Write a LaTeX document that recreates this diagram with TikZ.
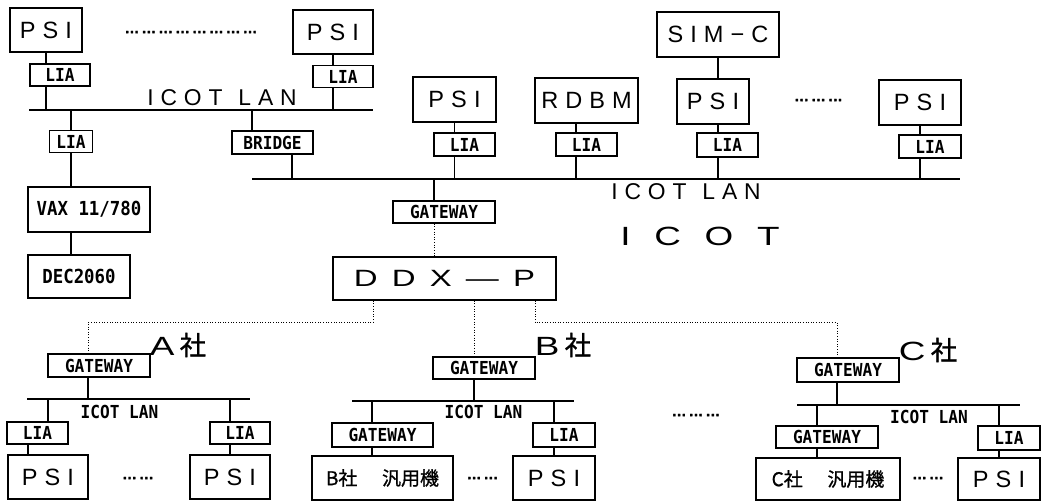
\documentclass[tikz,border=0pt]{standalone}
\usepackage{fontspec}
\setmainfont{Liberation Sans}
\newfontfamily\spaced[LetterSpace=30]{Liberation Sans}
\newfontfamily\widefont[FakeStretch=1.4,LetterSpace=60]{Liberation Sans}
\newfontfamily\sitefont[FakeStretch=1.4,LetterSpace=90]{Liberation Sans}
\newfontfamily\tagfont[FakeStretch=0.9]{DejaVu Sans Mono}
\newfontfamily\cjk[FakeBold=1]{Noto Sans CJK JP}
\newfontfamily\dotfont[FakeBold=2]{Liberation Sans}
\newcommand{\dotgroup}{…\hspace{1.2pt}}
\tikzset{
  frame/.style={draw=black, line width=0.7pt, fill=white, inner sep=0pt},
  unit/.style={frame, font=\spaced\fontsize{13.4}{15}\selectfont, minimum width=1.6cm, minimum height=0.88cm},
  tag/.style={frame, font=\tagfont\bfseries\fontsize{10.2}{11}\selectfont, minimum width=1.2cm, minimum height=0.44cm},
  gw/.style={tag, minimum width=2.04cm, minimum height=0.46cm},
  host/.style={frame, font=\tagfont\bfseries\fontsize{11}{12}\selectfont, minimum height=0.88cm},
  mainframe/.style={frame, font=\cjk\fontsize{10.8}{12}\selectfont, minimum height=0.88cm},
  lan/.style={line width=1.2pt},
  link/.style={line width=0.7pt},
  wan/.style={line width=0.5pt, densely dotted},
  lanlabel/.style={font=\spaced\fontsize{13}{14}\selectfont, inner sep=0pt},
  lanname/.style={font=\tagfont\bfseries\fontsize{10.2}{11}\selectfont, inner sep=0pt},
  site/.style={font=\fontsize{15}{16}\selectfont, inner sep=0pt},
  pause/.style={font=\dotfont\bfseries\fontsize{8.4}{9}\selectfont, inner sep=0pt}
}

\begin{document}
\begin{tikzpicture}[x=0.02cm,y=-0.02cm]
\path[use as bounding box] (0,0) rectangle (1041,501);
\fill[white] (0,0) rectangle (1041,501);

% ICOT: first LAN
\node[unit, minimum width=1.44cm] (psiNW) at (46,30) {PSI};
\node[unit] (psiNE) at (333,32) {PSI};
\node[pause] (dotsNW) at (191,32) {\dotgroup\dotgroup\dotgroup\dotgroup\dotgroup\dotgroup\dotgroup\dotgroup};
\node[tag] (liaNW) at (60,75) {LIA};
\node[tag] (liaNE) at (343,76.5) {LIA};
\coordinate (lanNW-w) at (29,110);
\coordinate (lanNW-e) at (373,110);
\node[lanlabel] (lanNW-name) at (222,98) {ICOT\hspace{0.7em}LAN};
\node[tag, minimum width=0.86cm] (liaVax) at (71,141.5) {LIA};
\node[tag, minimum width=1.62cm, minimum height=0.46cm] (bridge) at (272.5,142.5) {BRIDGE};
\node[host, minimum width=2.44cm, minimum height=0.9cm] (vax) at (89,209.5) {VAX 11/780};
\node[host, minimum width=2.04cm, minimum height=0.86cm] (dec) at (79,276.5) {DEC2060};

% ICOT: second LAN
\node[unit, minimum width=1.66cm, minimum height=0.9cm] (psiM1) at (454.5,99.5) {PSI};
\node[unit, minimum width=2.06cm, minimum height=0.9cm] (rdbm) at (586.5,100.5) {RDBM};
\node[unit, minimum width=2.44cm, minimum height=0.9cm] (simc) at (718,34.5) {SIM−C};
\node[unit, minimum width=1.44cm, minimum height=0.9cm] (psiM3) at (713,101.5) {PSI};
\node[pause] (dotsM) at (818.5,100) {\dotgroup\dotgroup\dotgroup};
\node[unit, minimum width=1.64cm, minimum height=0.9cm] (psiM4) at (920,102.5) {PSI};
\node[tag, minimum width=1.22cm, minimum height=0.46cm] (liaM1) at (464.5,144.5) {LIA};
\node[tag, minimum width=1.22cm, minimum height=0.46cm] (liaM2) at (586.5,144.5) {LIA};
\node[tag, minimum width=1.22cm, minimum height=0.48cm] (liaM3) at (727.5,145) {LIA};
\node[tag, minimum width=1.24cm, minimum height=0.46cm] (liaM4) at (930,146.5) {LIA};
\coordinate (lanIcot-w) at (252,179);
\coordinate (lanIcot-e) at (960,179);
\node[lanlabel] (lanIcot-name) at (686,192) {ICOT\hspace{0.7em}LAN};
\node[gw, minimum height=0.44cm] (gwIcot) at (444,212) {GATEWAY};
\node[site] (icot) at (700,236) {\sitefont ICOT};
\node[unit, font=\widefont\fontsize{13.4}{15}\selectfont, minimum width=4.46cm, minimum height=0.86cm] (ddxp) at (444.5,278.5) {DDX—P};

% A
\node[gw] (gwA) at (99,365.5) {GATEWAY};
\node[site] (siteA) at (178,345) {{\widefont A}\hspace{3pt}{\cjk 社}};
\coordinate (lanA-w) at (27,399);
\coordinate (lanA-e) at (250,399);
\node[lanname] (lanA-name) at (119.5,412) {ICOT LAN};
\node[tag, minimum width=1.22cm] (liaA1) at (37.5,433) {LIA};
\node[tag] (liaA2) at (240,433) {LIA};
\node[unit] (psiA1) at (48,477) {PSI};
\node[unit] (psiA2) at (230,477) {PSI};
\node[pause] (dotsA) at (138,478) {\dotgroup\dotgroup};

% B
\node[gw, minimum height=0.44cm] (gwB) at (484,368) {GATEWAY};
\node[site] (siteB) at (563,345) {{\widefont B}\hspace{3pt}{\cjk 社}};
\coordinate (lanB-w) at (352,401);
\coordinate (lanB-e) at (574,401);
\node[lanname] (lanB-name) at (483.5,412) {ICOT LAN};
\node[gw, minimum width=2.02cm, minimum height=0.48cm] (gwB2) at (382.5,435) {GATEWAY};
\node[mainframe, minimum width=2.82cm] (hostB) at (382.5,478) {B社\hspace{1.3em}汎用機};
\node[pause] (dotsB) at (482.5,478) {\dotgroup\dotgroup};
\node[tag, minimum width=1.24cm, minimum height=0.48cm] (liaB) at (564,435) {LIA};
\node[unit, minimum width=1.64cm] (psiB) at (554,478) {PSI};
\node[pause] (dotsMid) at (696,415) {\dotgroup\dotgroup\dotgroup};

% C
\node[gw, minimum height=0.48cm] (gwC) at (848,370) {GATEWAY};
\node[site] (siteC) at (928,350) {{\widefont C}\hspace{3pt}{\cjk 社}};
\coordinate (lanC-w) at (797,405);
\coordinate (lanC-e) at (1020,405);
\node[lanname] (lanC-name) at (929,417) {ICOT LAN};
\node[gw, minimum height=0.44cm] (gwC2) at (827,437) {GATEWAY};
\node[mainframe, minimum width=2.88cm, minimum height=0.84cm] (hostC) at (828,479) {C社\hspace{1.3em}汎用機};
\node[pause] (dotsC) at (928,478) {\dotgroup\dotgroup};
\node[tag, minimum width=1.24cm, minimum height=0.48cm] (liaC) at (1009,438) {LIA};
\node[unit, minimum width=1.64cm, minimum height=0.84cm] (psiC) at (999,479) {PSI};

% taps
\coordinate (tapBrN) at ([xshift=-4.1mm]bridge.north);
\coordinate (tapBrS) at ([xshift=3.9mm]bridge.south);
\coordinate (tapRdbm) at ([xshift=-2.1mm]rdbm.south);
\coordinate (tapIcot) at ([xshift=-2mm]gwIcot.north);
\coordinate (ddxW) at ([xshift=-14.3mm]ddxp.south);
\coordinate (ddxS) at ([xshift=5.9mm]ddxp.south);
\coordinate (ddxE) at ([xshift=18.1mm]ddxp.south);
\coordinate (tapA) at ([xshift=-2.2mm]gwA.south);
\coordinate (tapA1) at ([xshift=2.1mm]liaA1.north);
\coordinate (tapA1b) at ([xshift=-1.9mm]liaA1.south);
\coordinate (tapB) at ([xshift=-2mm]gwB.south);
\coordinate (tapB2) at ([xshift=-2.1mm]gwB2.north);
\coordinate (tapC) at ([xshift=-2.2mm]gwC.south);
\coordinate (tapC2) at ([xshift=-2mm]gwC2.north);

\draw[lan] (lanNW-w) -- (lanNW-e);
\draw[lan] (lanIcot-w) -- (lanIcot-e);
\draw[lan] (lanA-w) -- (lanA-e);
\draw[lan] (lanB-w) -- (lanB-e);
\draw[lan] (lanC-w) -- (lanC-e);

\draw[link] (psiNW.south) -- (psiNW.south |- liaNW.north);
\draw[link] (psiNW.south |- liaNW.south) -- (psiNW.south |- lanNW-w);
\draw[link] (psiNE.south) -- (liaNE.north -| psiNE);
\draw[link] (liaNE.south -| psiNE) -- (lanNW-w -| psiNE);
\draw[link] (lanNW-w -| liaVax) -- (liaVax.north);
\draw[link] (liaVax.south) -- (vax.north -| liaVax);
\draw[link] (vax.south -| liaVax) -- (dec.north -| liaVax);
\draw[link] (tapBrN) -- (tapBrN |- lanNW-w);
\draw[link] (tapBrS) -- (tapBrS |- lanIcot-w);

\draw[link] (psiM1.south) -- (liaM1.north -| psiM1);
\draw[link] (liaM1.south -| psiM1) -- (lanIcot-w -| psiM1);
\draw[link] (tapRdbm) -- (tapRdbm |- liaM2.north);
\draw[link] (tapRdbm |- liaM2.south) -- (tapRdbm |- lanIcot-w);
\draw[link] (simc.south) -- (psiM3.north -| simc);
\draw[link] (psiM3.south -| simc) -- (liaM3.north -| simc);
\draw[link] (liaM3.south -| simc) -- (lanIcot-w -| simc);
\draw[link] (psiM4.south) -- (liaM4.north -| psiM4);
\draw[link] (liaM4.south -| psiM4) -- (lanIcot-w -| psiM4);
\draw[link] (tapIcot) -- (tapIcot |- lanIcot-w);
\draw[wan] (tapIcot |- gwIcot.south) -- (tapIcot |- ddxp.north);

\draw[wan] (ddxW) -- ++(0,22) -| (tapA |- gwA.north);
\draw[wan] (ddxS) -- (ddxS |- gwB.north);
\draw[wan] (ddxE) -- ++(0,22) -| (tapC |- gwC.north);

\draw[link] (tapA) -- (tapA |- lanA-w);
\draw[link] (tapA1) -- (tapA1 |- lanA-w);
\draw[link] (tapA1b) -- (tapA1b |- psiA1.north);
\draw[link] (psiA2.north) -- (liaA2.south -| psiA2);
\draw[link] (liaA2.north -| psiA2) -- (lanA-w -| psiA2);

\draw[link] (tapB) -- (tapB |- lanB-w);
\draw[link] (tapB2) -- (tapB2 |- lanB-w);
\draw[link] (tapB2 |- gwB2.south) -- (tapB2 |- hostB.north);
\draw[link] (psiB.north) -- (liaB.south -| psiB);
\draw[link] (liaB.north -| psiB) -- (lanB-w -| psiB);

\draw[link] (tapC) -- (tapC |- lanC-w);
\draw[link] (tapC2) -- (tapC2 |- lanC-w);
\draw[link] (tapC2 |- gwC2.south) -- (tapC2 |- hostC.north);
\draw[link] (psiC.north) -- (liaC.south -| psiC);
\draw[link] (liaC.north -| psiC) -- (lanC-w -| psiC);
\end{tikzpicture}
\end{document}
